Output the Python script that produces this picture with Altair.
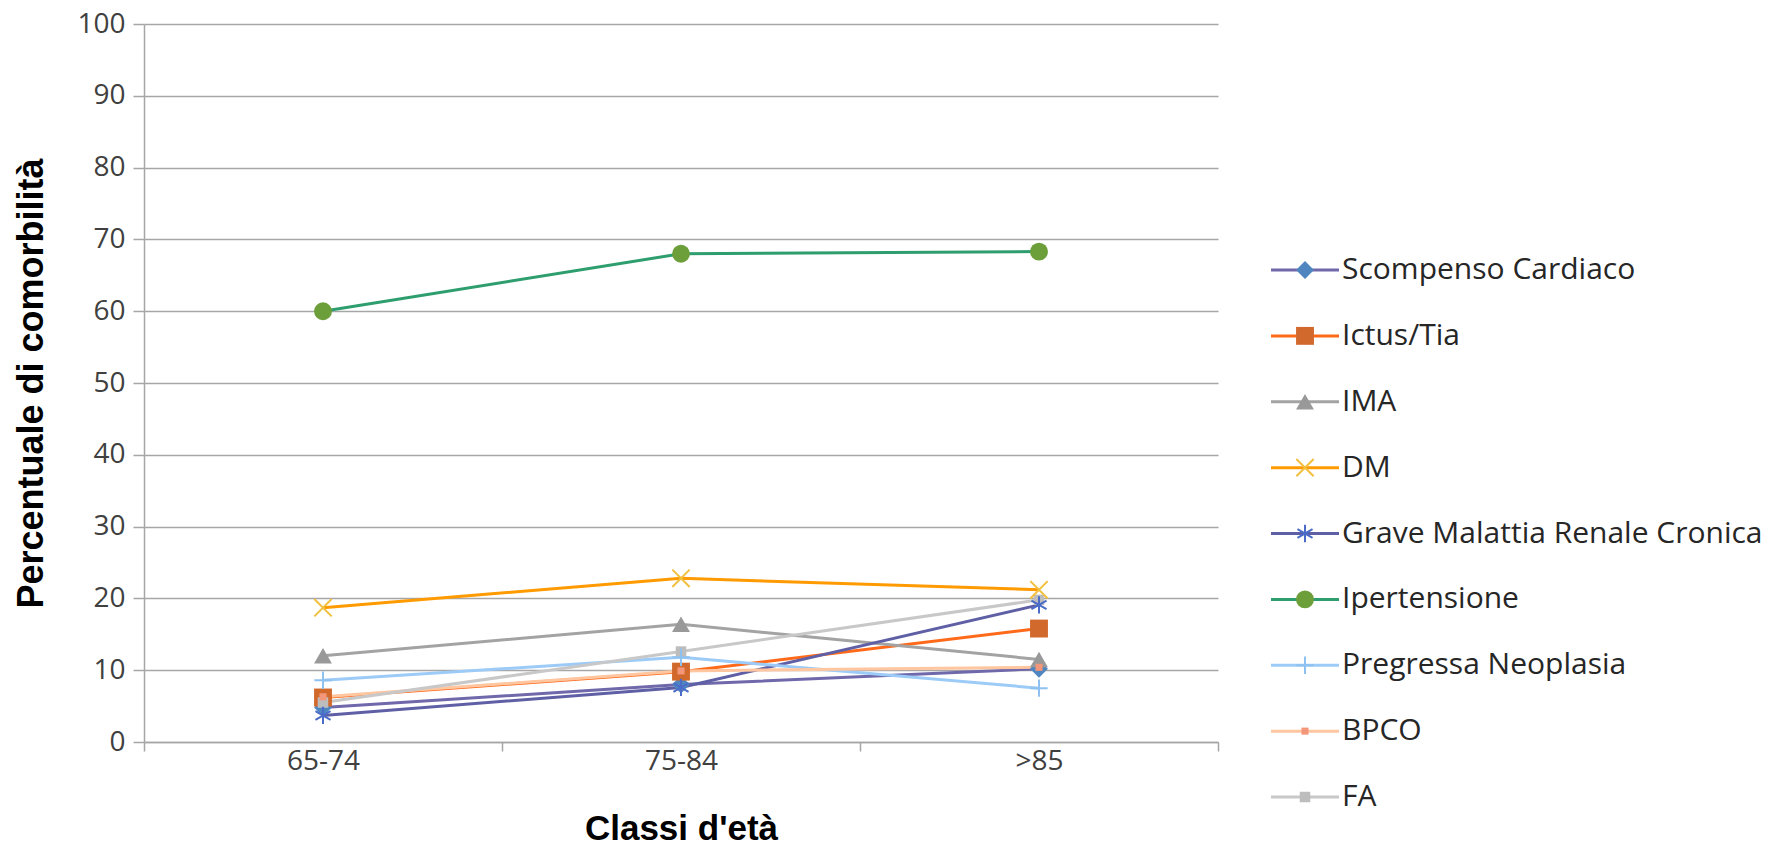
import altair as alt
import pandas as pd

# ---- data ----
ages = ["65-74", "75-84", ">85"]
series = [
    "Scompenso Cardiaco",
    "Ictus/Tia",
    "IMA",
    "DM",
    "Grave Malattia Renale Cronica",
    "Ipertensione",
    "Pregressa Neoplasia",
    "BPCO",
    "FA",
]
scompenso = [4.8, 8.0, 10.2]
ictus = [6.2, 9.8, 15.8]
ima = [12.0, 16.4, 11.5]
dm = [18.7, 22.8, 21.2]
grave = [3.7, 7.6, 19.1]
ipertensione = [60.0, 68.0, 68.3]
neoplasia = [8.6, 11.8, 7.5]
bpco = [6.3, 9.9, 10.4]
fa = [5.5, 12.6, 19.8]
values = [scompenso, ictus, ima, dm, grave, ipertensione, neoplasia, bpco, fa]

# ---- styles ----
line_colors = ["#6F68AA", "#FF6A1A", "#A3A3A3", "#FF9A00", "#5F5FA6",
               "#2E9E6E", "#9CCBF7", "#FFC6A0", "#C8C8C8"]
marker_colors = ["#4F86C0", "#D2692C", "#999999", "#F2C040", "#4A6CC8",
                 "#6C9E3A", "#8EC1F0", "#F4967A", "#BDBDBD"]
X_PATH = "M-1,-1L1,1M-1,1L1,-1"
AST_PATH = "M0,-1L0,1M-0.87,-0.5L0.87,0.5M-0.87,0.5L0.87,-0.5"
PLUS_PATH = "M0,-1L0,1M-1,0L1,0"
shapes = ["diamond", "square", "triangle-up", X_PATH, AST_PATH,
          "circle", PLUS_PATH, "square", "square"]
# marker groups: (series, filled?, size)
marker_groups = [
    (["Scompenso Cardiaco", "Ictus/Tia", "IMA", "Ipertensione"], True, 320),
    (["FA"], True, 110),
    (["BPCO"], True, 50),
    (["DM", "Grave Malattia Renale Cronica", "Pregressa Neoplasia"], False, 300),
]

rows = []
for s, vals in zip(series, values):
    for a, v in zip(ages, vals):
        rows.append({"series": s, "age": a, "value": v})
df = pd.DataFrame(rows)

line_scale = alt.Scale(domain=series, range=line_colors)
marker_scale = alt.Scale(domain=series, range=marker_colors)
shape_scale = alt.Scale(domain=series, range=shapes)

GRID = "#A6A6A6"
LABEL_FONT = "Open Sans"
TITLE_FONT = "Liberation Sans"

x_enc = alt.X(
    "age:N",
    sort=ages,
    scale=alt.Scale(type="band", domain=ages, paddingInner=0, paddingOuter=0),
    axis=alt.Axis(
        title="Classi d'età",
        labelAngle=0,
        tickBand="extent",
        grid=False,
        tickSize=9,
        tickColor=GRID,
        tickWidth=1.5,
        domainColor=GRID,
        domainWidth=1.5,
        labelFont=LABEL_FONT,
        labelFontSize=28,
        labelColor="#404040",
        labelPadding=-4,
        titleFont=TITLE_FONT,
        titleFontSize=35,
        titleFontWeight="bold",
        titleColor="#000000",
        titlePadding=36,
    ),
)
y_enc = alt.Y(
    "value:Q",
    scale=alt.Scale(domain=[0, 100], nice=False),
    axis=alt.Axis(
        title="Percentuale di comorbilità",
        values=list(range(0, 101, 10)),
        grid=True,
        gridColor=GRID,
        gridWidth=1.5,
        tickSize=11,
        tickColor=GRID,
        tickWidth=1.5,
        domainColor=GRID,
        domainWidth=1.5,
        labelFont=LABEL_FONT,
        labelFontSize=28,
        labelColor="#404040",
        labelPadding=8,
        titleFont=TITLE_FONT,
        titleFontSize=36,
        titleFontWeight="bold",
        titleColor="#000000",
        titlePadding=26,
    ),
)


def marker_layers(data, x, y):
    layers = []
    for members, filled, size in marker_groups:
        base = alt.Chart(data).transform_filter(
            alt.FieldOneOfPredicate(field="series", oneOf=members)
        )
        if filled:
            layers.append(base.mark_point(filled=True, opacity=1, size=size).encode(
                x=x, y=y,
                fill=alt.Fill("series:N", scale=marker_scale, legend=None),
                shape=alt.Shape("series:N", scale=shape_scale, legend=None),
            ))
        else:
            layers.append(base.mark_point(filled=False, strokeWidth=2, opacity=1, size=size).encode(
                x=x, y=y,
                stroke=alt.Stroke("series:N", scale=marker_scale, legend=None),
                shape=alt.Shape("series:N", scale=shape_scale, legend=None),
            ))
    return layers


lines = alt.Chart(df).mark_line(strokeWidth=3).encode(
    x=x_enc,
    y=y_enc,
    color=alt.Color("series:N", scale=line_scale, legend=None),
    detail="series:N",
)

main = alt.layer(lines, *marker_layers(df, x_enc, y_enc)).properties(width=1074, height=718)

# ---- legend drawn as its own small chart ----
leg_df = pd.DataFrame({"series": series, "idx": list(range(len(series)))})
LEG_H = 785
top_px, bot_px = 246, 773
span = (len(series) - 1) * LEG_H / (bot_px - top_px)
d0 = -top_px * span / LEG_H
leg_y = alt.Y("idx:Q", scale=alt.Scale(domain=[d0, d0 + span], reverse=True, nice=False, zero=False), axis=None)

leg_rule = alt.Chart(leg_df).mark_rule(strokeWidth=3).encode(
    x=alt.value(0), x2=alt.value(68), y=leg_y,
    color=alt.Color("series:N", scale=line_scale, legend=None),
)
leg_text = alt.Chart(leg_df).mark_text(
    align="left", baseline="middle", font=LABEL_FONT, fontSize=30, color="#262626"
).encode(x=alt.value(71), y=leg_y, text="series:N")

legend = alt.layer(
    leg_rule, *marker_layers(leg_df, alt.value(34), leg_y), leg_text
).properties(width=420, height=LEG_H)

chart = alt.hconcat(main, legend, spacing=50).properties(
    padding={"left": 5, "top": 2, "right": 0, "bottom": 0},
    background="white",
).configure_view(strokeWidth=0, stroke="transparent")

chart.save("out.html", embed_options={"renderer": "svg", "actions": False})
